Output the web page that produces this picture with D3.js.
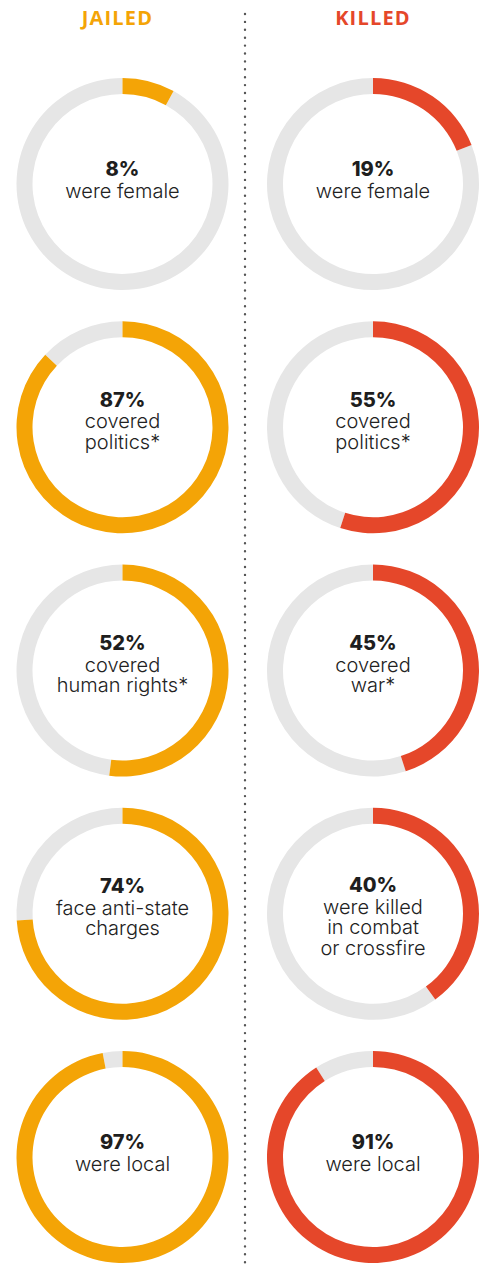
<!DOCTYPE html>
<html><head><meta charset="utf-8">
<script src="https://cdn.jsdelivr.net/npm/d3@7"></script>
<style>body{margin:0;background:#fff}svg{display:block}</style>
</head><body>
<script>
const groups = ["JAILED", "KILLED"];
const jailedValues = [8, 87, 52, 74, 97];
const killedValues = [19, 55, 45, 40, 91];
const jailedLabels = [["were female"], ["covered", "politics*"], ["covered", "human rights*"], ["face anti-state", "charges"], ["were local"]];
const killedLabels = [["were female"], ["covered", "politics*"], ["covered", "war*"], ["were killed", "in combat", "or crossfire"], ["were local"]];

const W = 479, H = 1264;
const colors = {JAILED: "#F4A406", KILLED: "#E5472A"};
const svg = d3.select("body").append("svg").attr("width", W).attr("height", H);

const x = d3.scalePoint().domain(groups).range([122.5, 373]);
const y = d3.scalePoint().domain(d3.range(5)).range([184, 1157]);
const ang = d3.scaleLinear().domain([0, 100]).range([0, 2 * Math.PI]);
const arc = d3.arc().innerRadius(90).outerRadius(106);

// divider
svg.append("line").attr("x1", 245).attr("x2", 245).attr("y1", 14).attr("y2", H)
  .attr("stroke", "#555").attr("stroke-width", 2.4).attr("stroke-linecap", "round")
  .attr("stroke-dasharray", "0 7.9");

// headers
svg.selectAll("text.hdr").data(groups).join("text").attr("class", "hdr")
  .attr("x", d => x(d) - (d === "JAILED" ? 5 : 0)).attr("y", 25)
  .attr("text-anchor", "middle").attr("fill", d => colors[d])
  .style("font-family", "'Open Sans', sans-serif").style("font-weight", 700)
  .style("font-size", "20px").style("letter-spacing", "1.2px")
  .text(d => d);

const data = [];
groups.forEach(g => {
  const vals = g === "JAILED" ? jailedValues : killedValues;
  const labs = g === "JAILED" ? jailedLabels : killedLabels;
  vals.forEach((v, i) => data.push({g, i, v, lines: labs[i]}));
});

const cell = svg.selectAll("g.cell").data(data).join("g").attr("class", "cell")
  .attr("transform", d => `translate(${x(d.g)},${y(d.i)})`);

cell.append("path").attr("fill", "#E6E6E6")
  .attr("d", d => arc({startAngle: ang(d.v), endAngle: ang(100)}));
cell.append("path").attr("fill", d => colors[d.g])
  .attr("d", d => arc({startAngle: 0, endAngle: ang(d.v)}));

const numOffset = {1: -8, 2: -20.5, 3: -21.5};
cell.each(function(d) {
  const y0 = numOffset[d.lines.length];
  const g = d3.select(this);
  g.append("text").attr("text-anchor", "middle").attr("fill", "#1e1e1e")
    .attr("x", 0).attr("y", y0)
    .style("font-family", "Inter, sans-serif")
    .style("font-weight", 800).style("font-size", "20px").text(d.v + "%");
  d.lines.forEach((l, k) => {
    g.append("text").attr("text-anchor", "middle").attr("fill", "#222")
      .attr("x", 0).attr("y", y0 + 21.5 + k * 20.5)
      .style("font-family", "Inter, sans-serif")
      .style("font-weight", 300).style("font-size", "20px").text(l);
  });
});
</script>
</body></html>
